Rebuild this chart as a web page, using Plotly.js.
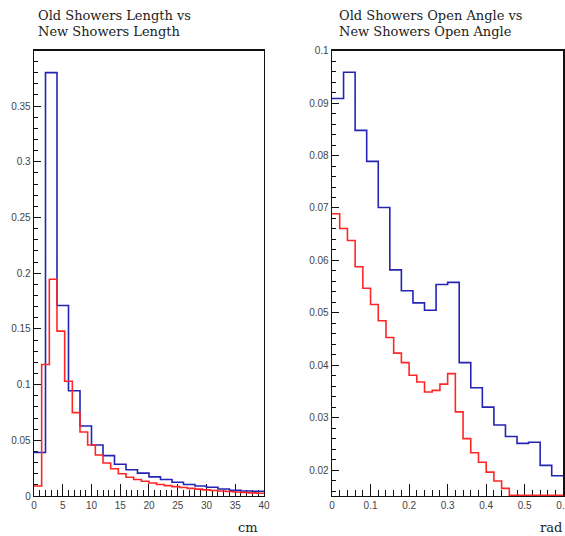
<!DOCTYPE html>
<html>
<head>
<meta charset="utf-8">
<script src="https://cdn.plot.ly/plotly-3.0.1.min.js"></script>
<style>html,body{margin:0;padding:0;background:#fff;}#chart{width:565px;height:536px;}</style>
</head>
<body>
<div id="chart"></div>
<script>
// ---- Data: shower length (cm) ----
const lengthEdgesOld = [0,2,4,6,8,10,12,14,16,18,20,22,24,26,28,30,32,34,36,38,40];
const lengthOld = [0.039,0.380,0.171,0.0945,0.0628,0.0458,0.0362,0.0285,0.0235,0.0205,
                   0.0172,0.0148,0.0124,0.0103,0.0090,0.0078,0.0063,0.0052,0.0045,0.0042];
const lengthEdgesNew = [0,1.333,2.667,4,5.333,6.667,8,9.333,10.667,12,13.333,14.667,16,17.333,18.667,
                        20,21.333,22.667,24,25.333,26.667,28,29.333,30.667,32,33.333,34.667,36,37.333,38.667,40];
const lengthNew = [0.009,0.118,0.1945,0.148,0.103,0.0748,0.0574,0.0458,0.0368,0.0296,
                   0.0245,0.0200,0.0168,0.0148,0.0132,0.0117,0.0103,0.0093,0.0084,0.0076,
                   0.0068,0.0062,0.0055,0.0050,0.0045,0.0040,0.0036,0.0031,0.0028,0.0025];

// ---- Data: shower open angle (rad) ----
const angleEdgesOld = [0,0.03,0.06,0.09,0.12,0.15,0.18,0.21,0.24,0.27,0.30,0.33,0.36,0.39,0.42,0.45,0.48,0.51,0.54,0.57,0.60];
const angleOld = [0.0909,0.0959,0.0848,0.0789,0.0701,0.0582,0.0542,0.0519,0.0505,0.0554,
                  0.0558,0.0405,0.0357,0.0320,0.0286,0.0264,0.0251,0.0253,0.0209,0.0189];
const angleEdgesNew = [0,0.02,0.04,0.06,0.08,0.10,0.12,0.14,0.16,0.18,0.20,0.22,0.24,0.26,0.28,0.30,
                       0.32,0.34,0.36,0.38,0.40,0.42,0.44,0.46,0.48,0.50,0.52,0.54,0.56,0.58,0.60];
const angleNew = [0.0689,0.0661,0.0638,0.0588,0.0547,0.0516,0.0485,0.0453,0.0423,0.0405,
                  0.0381,0.0368,0.0349,0.0352,0.0364,0.0384,0.0311,0.0260,0.0233,0.0215,
                  0.0196,0.0179,0.0165,0.0152,0.0152,0.0152,0.0152,0.0152,0.0152,0.0152];

const titleLeft1 = "Old Showers Length vs", titleLeft2 = "New Showers Length";
const titleRight1 = "Old Showers Open Angle vs", titleRight2 = "New Showers Open Angle";
const unitLeft = "cm", unitRight = "rad";

// ---- helpers ----
const W = 565, H = 536;
const px = x => x / W, py = y => 1 - y / H;
function stepTrace(edges, vals, color, xa, ya) {
  return {
    type: 'scatter', mode: 'lines', xaxis: xa, yaxis: ya,
    x: edges, y: vals.concat([vals[vals.length - 1]]),
    line: {shape: 'hv', color: color, width: 1.6},
    hoverinfo: 'skip', showlegend: false
  };
}
const BLUE = '#2424b4', RED = '#ff2626';
const traces = [
  stepTrace(lengthEdgesOld, lengthOld, BLUE, 'x', 'y'),
  stepTrace(lengthEdgesNew, lengthNew, RED, 'x', 'y'),
  stepTrace(angleEdgesOld, angleOld, BLUE, 'x2', 'y2'),
  stepTrace(angleEdgesNew, angleNew, RED, 'x2', 'y2')
];

const tickFont = {family: 'Liberation Sans, Arial, sans-serif', size: 10, color: '#444'};
function axis(extra) {
  return Object.assign({
    showline: true, mirror: true, linecolor: '#111', linewidth: 1.3,
    ticks: 'inside', tickcolor: '#111', tickwidth: 1,
    showgrid: false, zeroline: false, tickfont: tickFont, layer: 'below traces',
    ticklabeloverflow: 'allow', fixedrange: true
  }, extra);
}
const yDom = [py(496), py(50.7)];
const serif = {family: 'DejaVu Serif, serif', size: 13, color: '#222'};

const layout = {
  width: W, height: H,
  margin: {l: 0, r: 0, t: 0, b: 0},
  paper_bgcolor: '#fff', plot_bgcolor: '#fff',
  xaxis: axis({domain: [px(34), px(264)], range: [0, 40.002], anchor: 'y',
               tick0: 0, dtick: 5, ticklen: 12,
               minor: {dtick: 1, tick0: 0, ticks: 'inside', ticklen: 6, tickcolor: '#111', tickwidth: 1, showgrid: false}}),
  yaxis: axis({domain: yDom, range: [0, 0.3997], anchor: 'x',
               tick0: 0, dtick: 0.05, ticklen: 7,
               minor: {dtick: 0.01, tick0: 0, ticks: 'inside', ticklen: 3.5, tickcolor: '#111', tickwidth: 1, showgrid: false}}),
  xaxis2: axis({domain: [px(332), px(563.3)], range: [0, 0.60005], anchor: 'y2',
               tick0: 0, dtick: 0.1, ticklen: 12,
               minor: {dtick: 0.02, tick0: 0, ticks: 'inside', ticklen: 6, tickcolor: '#111', tickwidth: 1, showgrid: false}}),
  yaxis2: axis({domain: yDom, range: [0.01505, 0.10001], anchor: 'x2',
               tick0: 0, dtick: 0.01, ticklen: 7,
               minor: {dtick: 0.002, tick0: 0, ticks: 'inside', ticklen: 3.5, tickcolor: '#111', tickwidth: 1, showgrid: false}}),
  annotations: [
    {text: titleLeft1, xref: 'paper', yref: 'paper', x: px(36), y: py(16), xanchor: 'left', yanchor: 'middle', showarrow: false, font: serif},
    {text: titleLeft2, xref: 'paper', yref: 'paper', x: px(36), y: py(32), xanchor: 'left', yanchor: 'middle', showarrow: false, font: serif},
    {text: titleRight1, xref: 'paper', yref: 'paper', x: px(336.5), y: py(16), xanchor: 'left', yanchor: 'middle', showarrow: false, font: serif},
    {text: titleRight2, xref: 'paper', yref: 'paper', x: px(336.5), y: py(32), xanchor: 'left', yanchor: 'middle', showarrow: false, font: serif},
    {text: unitLeft, xref: 'paper', yref: 'paper', x: px(260), y: py(527), xanchor: 'right', yanchor: 'middle', showarrow: false, font: serif},
    {text: unitRight, xref: 'paper', yref: 'paper', x: px(563.5), y: py(527), xanchor: 'right', yanchor: 'middle', showarrow: false, font: serif}
  ]
};

Plotly.newPlot('chart', traces, layout, {displayModeBar: false, staticPlot: true});
</script>
</body>
</html>
